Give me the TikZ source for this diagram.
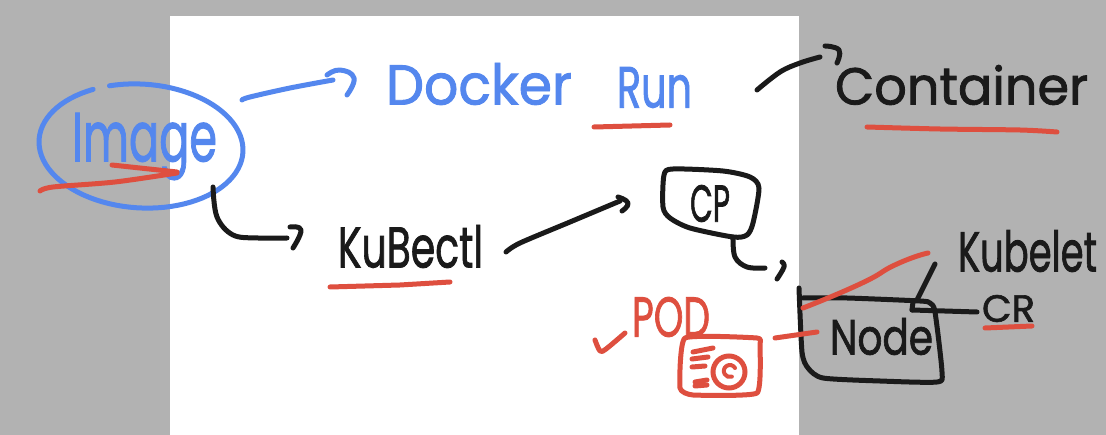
\documentclass[tikz,border=0pt]{standalone}
\usepackage{graphicx}
\usepackage{fontspec}
\setmainfont[FakeBold=1.6]{Poppins}
\definecolor{inkblue}{HTML}{5487EE}
\definecolor{inkred}{HTML}{DE4F3F}
\definecolor{inkblack}{HTML}{1A1A1A}
\definecolor{sidegrey}{HTML}{B2B2B2}
\tikzset{
  blueink/.style={draw=inkblue,line width=5pt,line cap=round,line join=round},
  redink/.style={draw=inkred,line width=5pt,line cap=round,line join=round},
  blackink/.style={draw=inkblack,line width=5pt,line cap=round,line join=round},
  word/.style={inner sep=0pt,outer sep=0pt,anchor=north west},
}
% name, x, y, width, height, colour, text
\newcommand{\handword}[7]{\node[word,text=#6] (#1) at (#2,#3) {\resizebox*{#4pt}{#5pt}{#7}};}
\begin{document}
\begin{tikzpicture}[x=1pt,y=-1pt]
\useasboundingbox (0,0) rectangle (1106,435);
\fill[sidegrey] (0,0) rectangle (1106,435);
\fill[white] (170,16) rectangle (799,435);

% named ends of the connectors
\coordinate (imgA) at (242,100);
\coordinate (dockerHead) at (333,80);
\coordinate (imgB) at (213,187);
\coordinate (kubectlHead) at (287,238);
\coordinate (kubectlOut) at (506,252);
\coordinate (cpHead) at (620,201);
\coordinate (cpTail) at (733,237);
\coordinate (nodeHead) at (765,268);
\coordinate (runOut) at (757,90);
\coordinate (containerHead) at (820,57);
\coordinate (nodeKubelet) at (917,300);
\coordinate (kubeletEnd) at (935,264);
\coordinate (nodeCr) at (912,310);
\coordinate (crEnd) at (977,312);
\coordinate (podEnd) at (775,338);
\coordinate (nodeEnd) at (817,332);

% Image
\draw[blueink] plot[domain=108:-242,samples=90,variable=\t] ({141+102*cos(\t)},{146-62*sin(\t)+4*cos(\t)});
\handword{image}{72}{113}{145}{67}{inkblue}{Image}
\draw[redink] plot[smooth,tension=.5] coordinates {(40,191) (53,187) (115,182) (177,173)};
\draw[redink] (112,165) -- (177,172);

% Docker Run
\draw[blueink] plot[smooth,tension=.6] coordinates {(imgA) (250,97) (290,88) (dockerHead)};
\draw[blueink] plot[smooth,tension=.8] coordinates {(327,75) (340,70) (354,78) (347,95)};
\handword{docker}{386}{63}{186}{42}{inkblue}{Docker}
\handword{run}{617}{67}{75}{41}{inkblue}{Run}
\draw[redink] (594,127) -- (670,125);

% Container
\draw[blackink] plot[smooth,tension=.6] coordinates {(runOut) (780,72) (800,63) (containerHead)};
\draw[blackink] plot[smooth,tension=.8] coordinates {(825,46) (839,50) (837,63)};
\handword{container}{835}{65}{253}{40}{inkblack}{Container}
\draw[redink] plot[smooth] coordinates {(867,127) (940,129) (1020,130) (1057,132)};

% Kubectl
\draw[blackink] plot[smooth,tension=.6] coordinates {(imgB) (217,217) (233,235) (258,238) (kubectlHead)};
\draw[blackink] plot[smooth,tension=.8] coordinates {(290,227) (301,230) (293,248)};
\handword{kubectl}{338}{225}{145}{43}{inkblack}{KuBectl}
\draw[redink] (330,287) -- (400,285) -- (450,282);
\draw[blackink] plot[smooth,tension=.5] coordinates {(kubectlOut) (520,243) (570,222) (cpHead)};
\draw[blackink] plot[smooth,tension=.9] coordinates {(618,197) (628,203) (622,211)};

% CP
\draw[blackink] plot[smooth cycle,tension=.45] coordinates {(664,175) (673,169) (723,171) (750,177) (759,188) (753,223) (747,235) (733,237) (690,228) (670,218) (663,207)};
\handword{cp}{690}{185}{40}{37}{inkblack}{CP}
\draw[blackink] plot[smooth,tension=.6] coordinates {(cpTail) (735,257) (747,267) (nodeHead)};
\draw[blackink] plot[smooth,tension=.7] coordinates {(782,262) (784,267) (777,279)};

% Node
\draw[blackink] plot[smooth,tension=.4] coordinates {(799,288) (802,352) (808,368) (823,378) (880,381) (937,382) (942,372) (935,312) (930,303) (920,301) (847,298) (803,298)};
\handword{node}{830}{318}{103}{37}{inkblack}{Node}
\draw[blackink] (kubeletEnd) -- (nodeKubelet);
\draw[blackink] (913,302) -- (nodeCr);
\draw[blackink] (nodeCr) -- (crEnd);
\handword{kubelet}{958}{230}{139}{42}{inkblack}{Kubelet}
\handword{cr}{982}{295}{53}{27}{inkblack}{CR}
\draw[redink] (985,328) -- (1032,326);
\draw[redink] plot[smooth,tension=1] coordinates {(803,308) (860,284) (897,264) (928,253)};

% Pod
\draw[redink] plot[smooth,tension=.5] coordinates {(595,340) (600,351) (606,349) (625,333)};
\handword{pod}{632}{297}{78}{40}{inkred}{POD}
\draw[redink] plot[smooth cycle,tension=.25] coordinates {(685,338) (757,338) (760,345) (757,393) (693,395) (680,388)};
\draw[redink] (693,352) -- (713,348);
\draw[redink] (692,359) -- (708,357);
\draw[redink] (692,367) -- (705,366);
\draw[redink] (695,382) -- (707,380);
\draw[redink] (695,386) -- (707,385);
\draw[draw=inkred,line width=5pt] (729,372) circle[radius=16];
\draw[draw=inkred,line width=4pt,line cap=round] (735,368) arc[start angle=-30,end angle=-290,radius=6];
\draw[redink] (podEnd) -- (nodeEnd);
\end{tikzpicture}
\end{document}
